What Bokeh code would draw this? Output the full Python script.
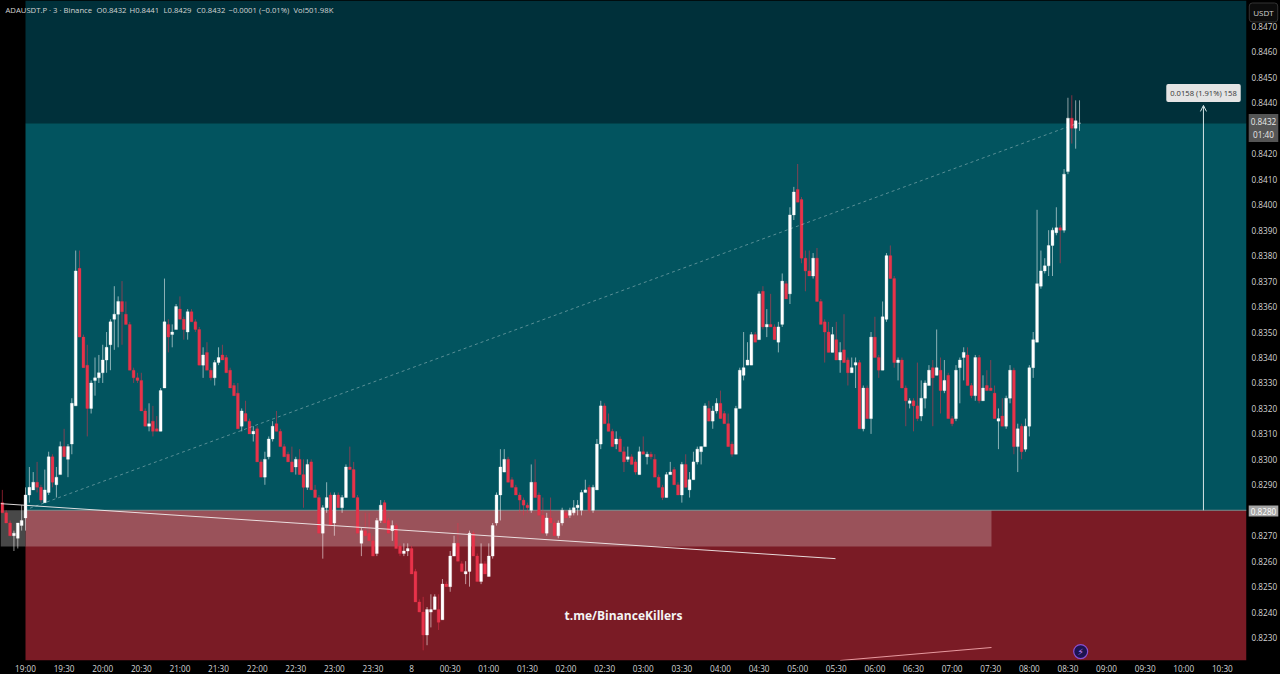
from bokeh.plotting import figure
from bokeh.embed import file_html
from bokeh.resources import INLINE
from bokeh.models import ColumnDataSource, Label, Arrow, OpenHead, FixedTicker, NumeralTickFormatter
from bokeh.core.properties import value

# candle prices in ticks of 0.0001 USDT, one row per 3-minute bar, first bar = index -6
first_bar = -6
ohlc_ticks = [
(8283,8288,8279,8279),(8279,8280,8275,8275),(8275,8276,8270,8270),(8270,8272,8264,8271),(8269,8275,8265,8275),
(8274,8282,8272,8276),(8277,8289,8272,8286),(8286,8297,8283,8289),(8288,8295,8288,8291),(8291,8299,8287,8289),
(8289,8290,8283,8284),(8283,8296,8283,8288),(8287,8303,8286,8301),(8301,8302,8289,8291),(8290,8297,8285,8293),
(8294,8307,8294,8305),(8305,8312,8301,8301),(8300,8306,8293,8305),(8306,8324,8302,8322),(8321,8382,8321,8374),
(8375,8382,8348,8348),(8348,8349,8336,8336),(8337,8345,8309,8320),(8320,8331,8318,8330),(8331,8340,8325,8332),
(8332,8341,8330,8334),(8334,8345,8330,8339),(8339,8350,8334,8344),(8345,8355,8335,8354),(8355,8368,8343,8357),
(8357,8364,8344,8362),(8362,8370,8345,8358),(8357,8362,8353,8353),(8353,8354,8335,8335),(8335,8336,8330,8332),
(8332,8334,8330,8331),(8331,8334,8319,8319),(8319,8320,8313,8313),(8313,8322,8311,8314),(8315,8321,8309,8311),
(8312,8317,8311,8311),(8311,8328,8311,8327),(8328,8371,8328,8354),(8353,8355,8342,8348),(8349,8353,8344,8350),
(8351,8361,8351,8360),(8359,8364,8355,8355),(8355,8356,8347,8351),(8350,8359,8347,8358),(8358,8359,8354,8354),
(8354,8355,8350,8351),(8351,8352,8337,8337),(8337,8344,8332,8341),(8342,8346,8335,8335),(8335,8336,8331,8332),
(8332,8339,8329,8338),(8338,8344,8337,8340),(8341,8345,8339,8339),(8340,8341,8334,8334),(8335,8336,8328,8328),
(8329,8330,8325,8325),(8326,8330,8312,8312),(8313,8320,8311,8319),(8318,8323,8315,8315),(8315,8316,8310,8310),
(8310,8313,8307,8311),(8312,8313,8299,8299),(8299,8300,8293,8293),(8293,8303,8290,8300),(8301,8309,8300,8308),
(8308,8315,8307,8313),(8314,8319,8311,8311),(8311,8312,8305,8305),(8305,8306,8301,8301),(8302,8303,8299,8299),
(8299,8305,8295,8295),(8297,8301,8294,8300),(8300,8304,8294,8294),(8294,8300,8281,8289),(8289,8300,8288,8298),
(8299,8300,8288,8288),(8288,8290,8285,8285),(8285,8286,8271,8271),(8271,8282,8261,8281),(8281,8291,8279,8285),
(8286,8287,8274,8274),(8275,8287,8270,8286),(8286,8287,8281,8281),(8281,8286,8279,8285),(8285,8298,8285,8297),
(8297,8305,8296,8296),(8296,8299,8285,8285),(8285,8286,8271,8271),(8267,8273,8262,8272),(8272,8279,8270,8270),
(8271,8279,8268,8268),(8268,8270,8262,8262),(8263,8277,8262,8276),(8276,8284,8275,8282),(8283,8284,8275,8275),
(8276,8277,8271,8271),(8272,8276,8268,8274),(8274,8275,8265,8265),(8266,8267,8262,8263),(8263,8267,8262,8264),
(8264,8267,8262,8265),(8265,8266,8255,8255),(8256,8257,8244,8244),(8244,8245,8240,8240),(8240,8246,8225,8231),
(8231,8242,8227,8241),(8240,8247,8234,8241),(8241,8247,8241,8246),(8241,8247,8233,8236),(8237,8253,8237,8251),
(8251,8252,8250,8250),(8250,8264,8248,8262),(8262,8270,8262,8267),(8267,8275,8260,8260),(8259,8260,8256,8256),
(8255,8260,8251,8256),(8256,8272,8250,8271),(8271,8272,8262,8262),(8262,8263,8252,8252),(8252,8267,8251,8259),
(8259,8260,8255,8255),(8254,8267,8254,8262),(8262,8275,8261,8274),(8275,8287,8274,8286),(8286,8304,8276,8297),
(8295,8304,8295,8300),(8300,8301,8291,8291),(8292,8293,8289,8289),(8289,8290,8286,8286),(8286,8287,8279,8284),
(8284,8285,8278,8282),(8282,8283,8279,8281),(8280,8298,8279,8291),(8291,8300,8285,8285),(8286,8287,8278,8278),
(8278,8285,8271,8271),(8271,8279,8270,8277),(8277,8285,8275,8275),(8275,8276,8270,8270),(8270,8276,8269,8275),
(8275,8281,8274,8280),(8279,8280,8277,8277),(8278,8281,8277,8280),(8279,8284,8278,8281),(8281,8284,8278,8282),
(8280,8288,8278,8287),(8287,8292,8287,8288),(8289,8290,8279,8280),(8280,8290,8279,8289),(8288,8308,8288,8306),
(8306,8323,8304,8321),(8321,8322,8314,8314),(8314,8318,8311,8311),(8311,8312,8305,8305),(8306,8311,8304,8308),
(8308,8309,8303,8303),(8303,8305,8295,8299),(8300,8305,8299,8301),(8301,8302,8298,8298),(8299,8300,8294,8295),
(8294,8305,8294,8303),(8303,8309,8302,8302),(8301,8303,8298,8302),(8302,8303,8300,8301),(8300,8302,8293,8293),
(8293,8294,8289,8289),(8289,8290,8284,8285),(8285,8295,8285,8294),(8294,8299,8294,8295),(8296,8297,8290,8290),
(8290,8291,8286,8286),(8286,8299,8283,8298),(8298,8302,8289,8289),(8288,8295,8285,8292),(8292,8303,8292,8299),
(8299,8305,8298,8304),(8303,8305,8298,8305),(8305,8322,8305,8321),(8320,8323,8315,8315),(8315,8321,8312,8319),
(8319,8324,8318,8322),(8322,8327,8316,8316),(8318,8319,8314,8314),(8314,8318,8305,8305),(8306,8307,8301,8302),
(8302,8321,8302,8320),(8320,8336,8320,8335),(8333,8350,8331,8336),(8337,8346,8337,8339),(8337,8350,8337,8349),
(8349,8350,8346,8346),(8347,8366,8347,8365),(8366,8368,8351,8352),(8352,8359,8348,8353),(8353,8365,8352,8352),
(8352,8353,8347,8347),(8346,8354,8342,8352),(8353,8373,8352,8370),(8369,8370,8363,8363),(8365,8399,8361,8396),
(8396,8407,8394,8405),(8406,8416,8401,8401),(8402,8403,8377,8379),(8379,8382,8366,8374),(8374,8382,8372,8372),
(8372,8381,8371,8379),(8379,8383,8362,8362),(8362,8363,8353,8353),(8354,8355,8338,8350),(8350,8354,8342,8342),
(8342,8352,8342,8349),(8347,8354,8339,8339),(8339,8346,8334,8342),(8343,8357,8338,8338),(8339,8340,8329,8334),
(8334,8340,8334,8336),(8337,8340,8328,8338),(8338,8339,8312,8312),(8312,8329,8311,8328),(8328,8329,8316,8316),
(8316,8350,8310,8348),(8348,8356,8340,8340),(8340,8341,8332,8335),(8335,8362,8335,8356),(8355,8381,8354,8380),
(8380,8384,8371,8371),(8371,8372,8336,8338),(8338,8340,8331,8339),(8339,8340,8328,8328),(8328,8329,8313,8323),
(8322,8324,8320,8323),(8323,8324,8311,8321),(8321,8338,8315,8316),(8317,8331,8315,8324),(8324,8331,8320,8330),
(8329,8337,8329,8335),(8336,8339,8313,8332),(8333,8351,8333,8336),(8335,8340,8318,8327),(8327,8339,8326,8331),
(8333,8334,8316,8316),(8316,8317,8313,8314),(8316,8337,8315,8335),(8336,8340,8322,8339),(8340,8344,8331,8342),
(8341,8344,8329,8329),(8329,8330,8324,8325),(8325,8341,8323,8340),(8340,8341,8322,8323),(8323,8333,8323,8328),
(8329,8335,8327,8327),(8328,8339,8327,8327),(8326,8329,8316,8316),(8315,8320,8304,8316),(8317,8324,8313,8313),
(8313,8325,8312,8324),(8324,8337,8322,8335),(8335,8336,8302,8305),(8305,8314,8295,8312),(8313,8314,8300,8303),
(8304,8316,8303,8313),(8313,8337,8309,8336),(8336,8350,8332,8347),(8346,8398,8346,8369),(8368,8382,8367,8374),
(8374,8379,8373,8376),(8376,8390,8372,8384),(8384,8391,8372,8390),(8389,8399,8388,8391),(8391,8392,8377,8390),
(8390,8414,8389,8412),(8413,8442,8412,8434),(8434,8443,8424,8430),(8430,8441,8422,8433),(8432,8441,8429,8432),
]
time_labels = ["19:00","19:30","20:00","20:30","21:00","21:30","22:00","22:30","23:00","23:30","8",
               "00:30","01:00","01:30","02:00","02:30","03:00","03:30","04:00","04:30","05:00","05:30",
               "06:00","06:30","07:00","07:30","08:00","08:30","09:00","09:30","10:00","10:30"]
price_ticks = [0.8230, 0.8240, 0.8250, 0.8260, 0.8270, 0.8290, 0.8300, 0.8310, 0.8320, 0.8330, 0.8340, 0.8350,
               0.8360, 0.8370, 0.8380, 0.8390, 0.8400, 0.8410, 0.8420, 0.8440, 0.8450, 0.8460, 0.8470]
upper_level, lower_level, zone_floor = 0.8432, 0.8280, 0.82658
trend_x, trend_y = [-6.48, 209.8], [0.82826, 0.82610]
lower_trend_x, lower_trend_y = [211, 250.2], [0.8221, 0.82261]
measure_x, measure_y = [-0.3, 272.5], [0.8280, 0.8432]
x_left, x_right, y_low, y_high = -6.477, 316.25, 0.82210, 0.84802
header_parts = [("ADAUSDT.P · 3 · Binance", 5), ("O0.8432", 96), ("H0.8441", 129), ("L0.8429", 163),
                ("C0.8432", 196), ("−0.0001 (−0.01%)", 228), ("Vol501.98K", 293)]

TXT = "#d4d4d4"
FRAME_W, FRAME_H = 1246, 660
p = figure(width=1280, height=674, frame_width=FRAME_W, frame_height=FRAME_H, output_backend="svg", toolbar_location=None,
           x_range=(x_left, x_right), y_range=(y_low, y_high), y_axis_location="right",
           background_fill_color="#000000", border_fill_color="#000000",
           min_border_left=0, min_border_top=0, min_border_right=34, min_border_bottom=14,
           styles={"position": "fixed", "left": "0", "top": "0", "background-color": "#000000"})
p.outline_line_color = None
p.grid.visible = False

# zones
p.quad(left=0, right=x_right, bottom=upper_level, top=y_high, fill_color="#00303a", line_color=None)
p.quad(left=0, right=x_right, bottom=lower_level, top=upper_level, fill_color="#02545f", line_color=None)
p.quad(left=0, right=x_right, bottom=y_low, top=lower_level, fill_color="#7a1b25", line_color=None)
p.quad(left=0, right=250.2, bottom=zone_floor, top=lower_level, fill_color="#9a525a", line_color=None)
p.quad(left=x_left, right=0, bottom=zone_floor, top=lower_level, fill_color="#484848", line_color=None)
p.line([0, x_right], [lower_level, lower_level], line_color="#7d8f8f", line_width=1)

# candles
xs = [first_bar + k for k in range(len(ohlc_ticks))]
opens = [r[0] / 10000 for r in ohlc_ticks]
highs = [r[1] / 10000 for r in ohlc_ticks]
lows = [r[2] / 10000 for r in ohlc_ticks]
closes = [r[3] / 10000 for r in ohlc_ticks]
colors = ["#ffffff" if c >= o else "#e8334a" for o, c in zip(opens, closes)]
src = ColumnDataSource(dict(x=xs, o=opens, h=highs, l=lows, c=closes, col=colors,
                            top=[max(a, b) for a, b in zip(opens, closes)],
                            bot=[min(a, b) for a, b in zip(opens, closes)]))
p.segment("x", "h", "x", "l", source=src, line_color="col", line_width=1, line_alpha=0.55)
p.vbar(x="x", top="top", bottom="bot", width=0.74, source=src, fill_color="col", line_color="col", line_width=0.3)

# drawings
p.line(trend_x, trend_y, line_color="#f4eeee", line_width=0.9)
p.line(lower_trend_x, lower_trend_y, line_color="#e89aa0", line_width=1)
p.line(measure_x, measure_y, line_color="#ffffff", line_alpha=0.38, line_width=0.9, line_dash="3 3")
p.add_layout(Arrow(x_start=305.1, y_start=lower_level, x_end=305.1, y_end=0.8439,
                   line_color="#d5e4e6", line_width=1,
                   end=OpenHead(size=6, line_color="#d5e4e6", line_width=1)))

# a transparent page-sized sheet above the chart, for the badges that lie on the axis strips
sheet = figure(width=1280, height=674, frame_width=1280, frame_height=674, output_backend="svg", toolbar_location=None,
               x_range=(0, 1280), y_range=(674, 0), x_axis_type=None, y_axis_type=None,
               background_fill_color=None, border_fill_color=None,
               min_border_left=0, min_border_top=0, min_border_right=0, min_border_bottom=0,
               styles={"position": "fixed", "left": "0", "top": "0", "pointer-events": "none"})
sheet.outline_line_color = None
sheet.grid.visible = False

def lab(px, py, text, size="8px", color=TXT, align="left", target=p, **kw):
    """Text placed by its pixel position on the page (page y runs downwards)."""
    if target is p:
        kw.update(x=px, y=FRAME_H - py, x_units="screen", y_units="screen")
    else:
        kw.update(x=px, y=py)
    target.add_layout(Label(text=text, text_font="Open Sans", text_font_size=size, text_color=color,
                            text_align=align, text_baseline="middle", **kw))

for text, px in header_parts:
    lab(px, 9.5, text, size="7.7px")
lab(623, 615, "t.me/BinanceKillers", size="12px", color="#f4f4f4", align="center", text_font_style="bold")
lab(1203, 92.5, "0.0158 (1.91%) 158", size="7.6px", color="#333333", align="center",
    background_fill_color="#e4e4e4", padding=4, border_radius=2)
lab(1263, 12, "USDT", size="8px", align="center", target=sheet, background_fill_color="#0c0c0c",
    border_line_color="#333333", padding=4, border_radius=3)
lab(1263, 510.5, "0.8280", size="8.2px", color="#ffffff", align="center", target=sheet,
    background_fill_color="#a6a6a6", padding=2)
lab(1263, 127.5, "0.8432\n01:40", size="8.2px", color="#e8e8e8", align="center", target=sheet,
    background_fill_color="#555555", padding=2)

p.scatter([273.3], [0.82245], size=14, fill_color="#1c1450", line_color="#8a4fd0", line_width=1.2)
p.text([273.3], [0.82245], text=["⚡"], text_font=value("DejaVu Sans"), text_font_size="9px", text_color="#c98cff",
       text_align="center", text_baseline="middle")

# axes
p.xaxis.ticker = FixedTicker(ticks=[10 * k for k in range(len(time_labels))])
p.xaxis.major_label_overrides = {10 * k: t for k, t in enumerate(time_labels)}
p.yaxis.ticker = FixedTicker(ticks=price_ticks)
p.yaxis.formatter = NumeralTickFormatter(format="0.0000")
for ax in (p.xaxis[0], p.yaxis[0]):
    ax.axis_line_color = None
    ax.major_tick_line_color = None
    ax.minor_tick_line_color = None
    ax.major_tick_out = 0
    ax.major_tick_in = 0
    ax.minor_tick_out = 0
    ax.minor_tick_in = 0
    ax.major_label_text_color = TXT
    ax.major_label_text_font = "Open Sans"
    ax.major_label_text_font_size = "8.2px"
    ax.major_label_standoff = 2
p.yaxis[0].major_label_standoff = 5

open("out.html", "w").write(file_html([p, sheet], INLINE))
